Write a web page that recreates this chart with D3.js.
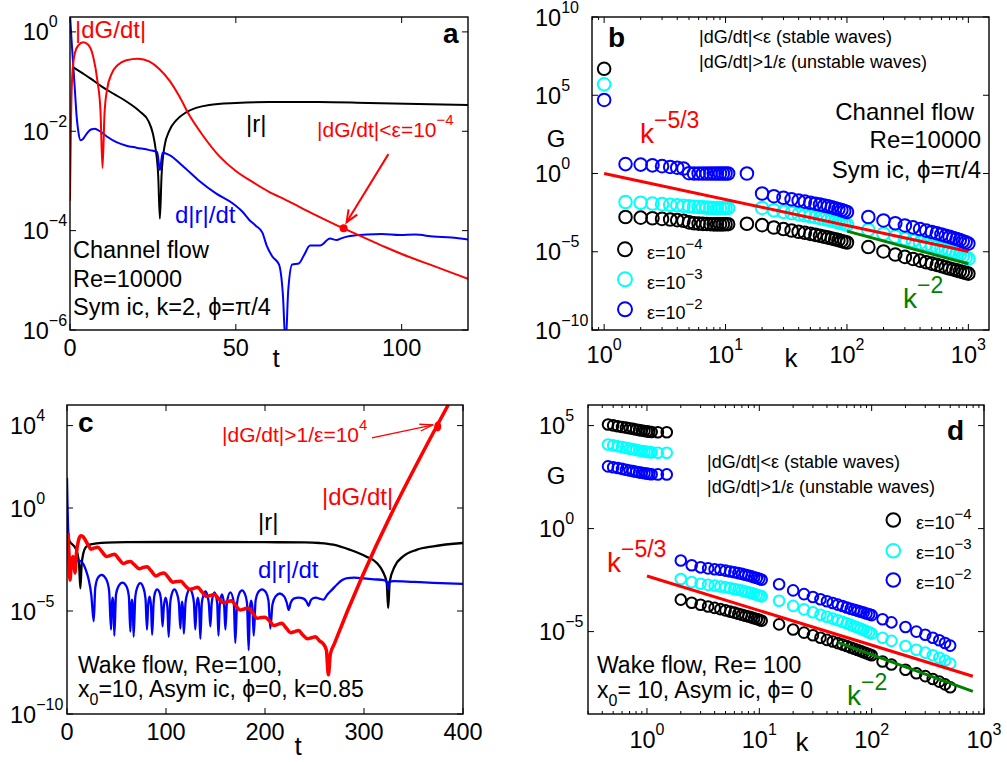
<!DOCTYPE html>
<html>
<head>
<meta charset="utf-8" />
<title>dG/dt and G(k)</title>
<script src="https://cdn.jsdelivr.net/npm/d3@7"></script>
<style>
  body { margin: 0; background: #fff; }
  text { font-family: "Liberation Sans", Arial, Helvetica, sans-serif; }
</style>
</head>
<body>
<script>
// ---------- panel a : channel flow, [t, log10(value)] ----------
const aDG = [[0,-3.4],[0.3,-1.8],[0.7,-0.85],[1.5,-0.42],[2.5,-0.27],[4,-0.21],[5.5,-0.26],[7,-0.5],[8.3,-1.0],[9.2,-1.6],[9.8,-2.74],
  [10.4,-1.65],[11.2,-1.15],[12.5,-0.85],[14.5,-0.66],[17,-0.57],[20.5,-0.54],[24,-0.6],[27,-0.75],[30,-0.98],[33,-1.3],[36,-1.68],
  [40,-2.08],[45,-2.5],[50,-2.8],[55,-3.02],[60,-3.22],[65,-3.38],[70,-3.55],[75,-3.72],[80,-3.88],[85,-4.03],[90,-4.18],[95,-4.33],
  [100,-4.47],[110,-4.72],[120,-4.97]];
const aR = [[1.2,-0.72],[3.5,-0.82],[6,-0.93],[9.6,-1.1],[13,-1.24],[17.7,-1.43],[21,-1.6],[23.7,-1.8],[25,-2.05],[25.8,-2.35],[26.6,-2.9],
  [27.1,-3.76],[27.6,-2.9],[28.5,-2.3],[30,-1.98],[32,-1.78],[35,-1.62],[38,-1.53],[42,-1.47],[50,-1.43],[60,-1.41],[75,-1.41],
  [90,-1.43],[105,-1.45],[120,-1.47]];
const aDR = [[0,0.35],[0.5,-0.2],[1,-0.7],[1.5,-1.2],[2,-1.7],[2.5,-2.0],[3.2,-2.18],[4,-2.15],[5,-2.05],[6.5,-1.96],[7.5,-1.95],[9,-2.0],
  [11,-2.1],[14,-2.22],[17,-2.29],[20,-2.33],[24,-2.38],[26.3,-2.42],[27.1,-2.78],[27.9,-2.43],[30,-2.48],[34,-2.7],[39,-3.0],[44,-3.25],
  [49,-3.45],[52,-3.62],[54,-3.78],[56,-3.9],[58,-4.04],[59.3,-4.3],[61,-4.52],[63,-4.68],[64.2,-5.3],[65,-6.3],[65.8,-5.2],[67,-4.68],
  [69,-4.66],[70.5,-4.5],[72.4,-4.3],[75.4,-4.3],[78.4,-4.16],[80.4,-4.19],[82,-4.15],[84.4,-4.11],[89.4,-4.08],[94,-4.07],[99.5,-4.09],
  [104,-4.08],[109.6,-4.12],[115,-4.14],[120,-4.18]];
const aDot = [82.5, -3.95];
const aArrow = [[96, -2.46], [83.4, -3.83]];
const aXTicks = [0, 50, 100];
const aYExp = [0, -2, -4, -6];

// ---------- panel b : channel flow spectrum, log10(G) ----------
const bK = [1, 1.5,2,2.5,3,3.5,4,4.5,5,5.5,6,6.5,7,7.5,8,8.5,9,9.5,10,10.5, 15,
  20,25,30,35,40,45,50,55,60,65,70,75,80,85,90,95,100,
  150,200,250,300,350,400,450,500,550,600,650,700,750,800,850,900,950,1000];
const bBlack = [6.69, -2.78,-2.82,-2.86,-2.9,-2.94,-2.98,-3.02,-3.12,-3.18,-3.2,-3.22,-3.23,-3.24,-3.25,-3.25,-3.25,-3.25,-3.24,-3.24, -3.21,
  -3.3,-3.45,-3.55,-3.64,-3.72,-3.79,-3.86,-3.92,-3.98,-4.04,-4.1,-4.15,-4.2,-4.26,-4.31,-4.36,-4.41,
  -4.7,-4.98,-5.18,-5.33,-5.46,-5.57,-5.67,-5.76,-5.84,-5.92,-6.0,-6.07,-6.13,-6.19,-6.25,-6.3,-6.35,-6.4];
const bCyan = [5.7, -1.82,-1.87,-1.92,-1.96,-2.0,-2.03,-2.06,-2.09,-2.12,-2.14,-2.16,-2.18,-2.19,-2.2,-2.21,-2.21,-2.2,-2.2,-2.2, null,
  -2.2,-2.35,-2.45,-2.53,-2.6,-2.67,-2.73,-2.79,-2.85,-2.9,-2.96,-3.01,-3.06,-3.12,-3.17,-3.22,-3.27,
  -3.6,-3.85,-4.03,-4.18,-4.3,-4.42,-4.52,-4.62,-4.71,-4.8,-4.88,-4.96,-5.04,-5.12,-5.2,-5.28,-5.36,-5.44];
const bBlue = [4.7, 0.6,0.57,0.52,0.47,0.42,0.37,0.32,0.02,0,0,0,0,0,0,0,0,0,0,0, 0,
  -1.28,-1.45,-1.55,-1.65,-1.73,-1.8,-1.87,-1.93,-1.99,-2.05,-2.1,-2.16,-2.22,-2.28,-2.34,-2.4,-2.46,
  -2.78,-3.0,-3.18,-3.32,-3.44,-3.55,-3.65,-3.74,-3.82,-3.9,-3.98,-4.05,-4.12,-4.19,-4.26,-4.33,-4.4,-4.48];
const bRed = [[1, 0], [1000, -4.98]];       // k^-5/3
const bGreen = [[100, -3.68], [1000, -5.77]]; // k^-2
const bXExp = [0, 1, 2, 3];
const bYExp = [10, 5, 0, -5, -10];

// ---------- panel c : wake flow ----------
const cDG = [[1.2,-1.2],[2,-2.3],[3,-3.5],[4.5,-2.6],[6,-2.35],[7,-2.7],[8,-3.15],[9.5,-2.2],[11.5,-1.6],[14,-1.35],[16,-1.38],[19,-1.6],
  [22,-1.85],[24,-2.0],[27,-1.95],[31,-1.9],[35,-2.1],[40,-2.35],[44,-2.3],[48,-2.25],[52,-2.45],[57,-2.7],[61,-2.62],[64,-2.6],
  [68,-2.75],[73,-2.95],[77,-2.88],[81,-2.85],[85,-3.05],[90,-3.3],[94,-3.2],[98,-3.15],[102,-3.35],[107,-3.6],[111,-3.57],[115,-3.55],
  [119,-3.75],[124,-3.95],[128,-3.9],[132,-3.85],[136,-4.05],[141,-4.3],[145,-4.24],[149,-4.2],[153,-4.4],[158,-4.6],[162,-4.55],
  [166,-4.5],[170,-4.7],[175,-4.95],[179,-4.9],[183,-4.85],[187,-5.05],[192,-5.35],[196,-5.32],[200,-5.3],[204,-5.45],[209,-5.7],
  [213,-5.65],[217,-5.6],[221,-5.8],[226,-6.05],[230,-6.0],[234,-5.95],[238,-6.15],[243,-6.35],[247,-6.3],[251,-6.25],[255,-6.45],
  [259,-6.6],[262,-6.9],[264,-8.1],[266,-7.1],[270,-6.6],[385,5.0]];
const cR = [[0,-1.05],[1,-1.35],[2.5,-1.6],[5,-1.75],[8,-1.9],[10.5,-2.2],[12.3,-2.8],[13.5,-3.9],[14.7,-2.8],[16.5,-2.2],[19,-1.9],
  [23,-1.78],[30,-1.72],[40,-1.68],[60,-1.66],[100,-1.65],[150,-1.65],[200,-1.66],[240,-1.67],[255,-1.7],[269,-1.78],[286,-2.03],
  [302,-2.35],[313,-2.67],[319,-3.08],[323,-3.65],[324.4,-4.86],[326,-3.57],[331,-2.84],[339.5,-2.35],[353,-2.03],[370,-1.86],[400,-1.7]];
const cDR = [[0,1.46],[0.5,0.2],[1,-0.8],[1.8,-1.9],[3.2,-2.8],[5,-2.75],[8,-2.62],[12,-2.55],[15,-2.62],[19,-3.0],[22,-3.5],[24.5,-4.2],[27,-5.5],
  [28.5,-3.9],[31,-3.4],[35,-3.25],[39.5,-3.45],[42.5,-4.0],[44.5,-5.9],
  [45.3,-4.7],[46.1,-4.35],[47,-4.7],[47.8,-6.2],
  [49.5,-4.2],[52,-3.8],[56,-3.62],[60,-3.8],[62.5,-4.3],[64,-6.0],
  [64.8,-4.8],[65.6,-4.45],[66.5,-4.8],[67.3,-6.25],
  [69,-4.3],[71,-3.85],[74,-3.65],[77,-3.85],[79.3,-4.4],[80.8,-5.9],
  [82,-4.7],[83.4,-4.3],[84.8,-4.7],[86,-6.15],
  [87.5,-4.6],[89,-4.1],[91,-3.95],[93.5,-4.1],[95.2,-4.6],[96.5,-5.75],
  [97.8,-4.8],[99.6,-4.35],[101.4,-4.8],[102.7,-6.25],
  [104.3,-4.6],[106,-4.15],[108.5,-3.95],[111,-4.15],[113,-4.6],[114.5,-5.85],
  [115.4,-4.9],[116.2,-4.55],[117.1,-4.9],[118,-6.1],
  [119.7,-4.6],[121.5,-4.15],[124,-3.95],[126.5,-4.15],[128.2,-4.6],[129.6,-5.9],
  [130.8,-4.8],[132.2,-4.35],[133.5,-4.8],[134.7,-6.35],
  [136.2,-4.6],[137.8,-4.25],[139.8,-4.05],[141.8,-4.25],[143.4,-4.7],[144.8,-5.75],
  [146.2,-4.6],[149,-4.1],[151.7,-4.6],[153,-6.2],
  [154.3,-4.7],[156.5,-4.2],[158.7,-4.7],[160,-5.9],
  [161.5,-4.6],[165,-4.1],[168.5,-4.6],[170,-6.55],
  [171.8,-4.6],[174,-4.15],[176.8,-4.0],[179.5,-4.15],[181.8,-4.6],[183.5,-6.9],
  [184.7,-4.9],[186,-4.5],[187.4,-4.9],[188.6,-6.2],
  [190.5,-4.5],[193,-4.1],[197,-3.95],[201,-4.1],[203.5,-4.5],[205.4,-5.85],
  [207.5,-4.7],[210.5,-4.3],[215,-4.15],[219.5,-4.3],[222,-4.6],[224,-4.95],
  [226,-4.6],[229,-4.4],[234,-4.35],[239,-4.4],[242,-4.55],[244,-4.75],
  [246,-4.5],[248.5,-4.38],[251.5,-4.35],[255,-4.4],[259,-4.45],
  [263,-4.2],[268,-3.95],[273,-3.7],[278,-3.5],[283,-3.4],[290,-3.38],[300,-3.42],[310,-3.46],[320,-3.5],[323.5,-3.6],[324.4,-3.95],
  [325.3,-3.6],[330,-3.55],[350,-3.59],[370,-3.63],[400,-3.68]];
const cDot = [374.5, 3.96];
const cArrow = [[308, 3.4], [370, 4.04]];
const cXTicks = [0, 100, 200, 300, 400];
const cYExp = [4, 0, -5, -10];

// ---------- panel d : wake flow spectrum, log10(G) ----------
const dK = [0.45,0.5,0.55,0.6,0.65,0.7,0.75,0.8,0.85,0.9,0.95,1.0,1.05,1.1,1.25,1.5,
  2,2.5,3,3.5,4,4.5,5,5.5,6,6.5,7,7.5,8,8.5,9,9.5,10,10.5,
  15,20,25,30,35,40,45,50,55,60,65,70,75,80,85,90,95,100,
  125,150,200,250,300,350,400,450,500];
const dBlack = [5.05,5.01,4.97,4.93,4.9,4.87,4.84,4.81,4.78,4.76,4.74,4.72,4.7,4.69,4.68,4.68,
  -3.45,-3.6,-3.7,-3.78,-3.85,-3.91,-3.97,-4.03,-4.08,-4.13,-4.18,-4.23,-4.27,-4.31,-4.35,-4.39,-4.43,-4.47,
  -4.65,-4.9,-5.05,-5.18,-5.3,-5.4,-5.48,-5.56,-5.63,-5.7,-5.77,-5.83,-5.89,-5.95,-6.0,-6.05,-6.1,-6.15,
  -6.45,-6.6,-6.85,-7.02,-7.16,-7.3,-7.43,-7.56,-7.7];
const dCyan = [4.08,4.04,4.0,3.96,3.92,3.88,3.85,3.82,3.79,3.77,3.75,3.73,3.71,3.7,3.68,3.68,
  -2.45,-2.6,-2.68,-2.73,-2.77,-2.81,-2.85,-2.89,-2.93,-2.97,-3.01,-3.05,-3.09,-3.13,-3.17,-3.21,-3.25,-3.29,
  -3.5,-3.75,-3.92,-4.06,-4.18,-4.28,-4.37,-4.45,-4.53,-4.6,-4.67,-4.74,-4.8,-4.86,-4.92,-4.98,-5.04,-5.1,
  -5.3,-5.45,-5.7,-5.88,-6.02,-6.15,-6.27,-6.4,-6.55];
const dBlue = [3.02,2.98,2.94,2.9,2.86,2.82,2.79,2.76,2.73,2.71,2.69,2.67,2.65,2.64,2.63,2.63,
  -1.55,-1.78,-1.88,-1.93,-1.97,-2.0,-2.04,-2.08,-2.12,-2.16,-2.2,-2.24,-2.28,-2.32,-2.36,-2.4,-2.44,-2.48,
  -2.7,-3.0,-3.18,-3.32,-3.43,-3.53,-3.61,-3.69,-3.76,-3.83,-3.89,-3.94,-3.99,-4.04,-4.08,-4.12,-4.16,-4.2,
  -4.4,-4.55,-4.78,-5.0,-5.15,-5.3,-5.42,-5.55,-5.68];
const dRed = [[1, -2.3], [795, -7.17]];
const dGreen = [[50, -5.52], [795, -7.9]];
const dXExp = [0, 1, 2, 3];
const dYExp = [5, 0, -5];

const epsExp = [-4, -3, -2];
const RED = "#ff0000", BLUE = "#0000ff", CYAN = "#00ffff", GREEN = "#008000";
const P = v => Math.pow(10, v);
const minus = e => (e < 0 ? "\u2212" + (-e) : String(e));

const svg = d3.select("body").append("svg").attr("width", 1007).attr("height", 762);
svg.append("rect").attr("width", 1007).attr("height", 762).attr("fill", "#fff");

// text with superscript / subscript parts
function txt(g, x, y, segs, o) {
  o = Object.assign({ size: 24, fill: "#000", anchor: "start", weight: "normal", small: 16, raise: 13, lower: 8 }, o);
  const t = g.append("text").attr("x", x).attr("y", y).attr("font-size", o.size)
    .attr("fill", o.fill).attr("text-anchor", o.anchor).attr("font-weight", o.weight);
  let shift = 0;
  (Array.isArray(segs) ? segs : [segs]).forEach(s => {
    let str = s, kind = null;
    if (Array.isArray(s)) { str = s[0]; kind = s[1]; }
    const target = kind === "sup" ? -o.raise : kind === "sub" ? o.lower : 0;
    const sp = t.append("tspan").attr("dy", target - shift).text(str);
    if (kind) sp.attr("font-size", o.small);
    shift = target;
  });
  return t;
}

function makePanel(id, x, y) {
  const [l, r] = x.range(), [b, t] = y.range();
  const g = svg.append("g");
  g.append("clipPath").attr("id", "clip-" + id).append("rect")
    .attr("x", l).attr("y", t).attr("width", r - l).attr("height", b - t);
  const plot = g.append("g").attr("clip-path", `url(#clip-${id})`);
  return { g, plot, x, y, l, r, t, b };
}

function tickMarks(p, xs, ys, len) {
  const g = p.g.append("g").attr("stroke", "#000").attr("stroke-width", 1);
  xs.forEach(v => {
    const X = p.x(v);
    g.append("line").attr("x1", X).attr("x2", X).attr("y1", p.b).attr("y2", p.b - len);
    g.append("line").attr("x1", X).attr("x2", X).attr("y1", p.t).attr("y2", p.t + len);
  });
  ys.forEach(v => {
    const Y = p.y(v);
    g.append("line").attr("x1", p.l).attr("x2", p.l + len).attr("y1", Y).attr("y2", Y);
    g.append("line").attr("x1", p.r).attr("x2", p.r - len).attr("y1", Y).attr("y2", Y);
  });
}

function minorX(p, lo, hi) {
  const vals = [];
  for (let e = lo; e <= hi; e++) for (let m = 2; m <= 9; m++) {
    const v = m * P(e);
    if (v > p.x.domain()[0] && v < p.x.domain()[1]) vals.push(v);
  }
  tickMarks(p, vals, [], 3);
}

function frame(p) {
  p.g.append("rect").attr("x", p.l).attr("y", p.t).attr("width", p.r - p.l).attr("height", p.b - p.t)
    .attr("fill", "none").attr("stroke", "#000").attr("stroke-width", 1.4);
}

function curve(p, data, color, w) {
  const line = d3.line().x(d => p.x(d[0])).y(d => p.y(P(d[1]))).curve(d3.curveMonotoneX);
  p.plot.append("path").attr("d", line(data)).attr("fill", "none")
    .attr("stroke", color).attr("stroke-width", w).attr("stroke-linejoin", "round");
}

function straight(p, data, color, w) {
  const line = d3.line().x(d => p.x(d[0])).y(d => p.y(P(d[1])));
  p.plot.append("path").attr("d", line(data)).attr("fill", "none").attr("stroke", color).attr("stroke-width", w);
}

function rings(p, ks, vs, color, r) {
  const pts = ks.map((k, i) => [k, vs[i]]).filter(d => d[1] !== null);
  p.plot.append("g").selectAll("circle").data(pts).join("circle")
    .attr("cx", d => p.x(d[0])).attr("cy", d => p.y(P(d[1]))).attr("r", r)
    .attr("fill", "none").attr("stroke", color).attr("stroke-width", 2);
}

function arrow(p, pts, color, w, head, spread) {
  const [x0, y0] = [p.x(pts[0][0]), p.y(P(pts[0][1]))];
  const [x1, y1] = [p.x(pts[1][0]), p.y(P(pts[1][1]))];
  const a = Math.atan2(y1 - y0, x1 - x0);
  const g = p.g.append("g").attr("stroke", color).attr("stroke-width", w).attr("fill", "none");
  g.append("line").attr("x1", x0).attr("y1", y0).attr("x2", x1).attr("y2", y1);
  g.append("path").attr("stroke-linejoin", "miter")
    .attr("d", `M${x1 - head * Math.cos(a - spread)},${y1 - head * Math.sin(a - spread)}L${x1},${y1}L${x1 - head * Math.cos(a + spread)},${y1 - head * Math.sin(a + spread)}`);
}

// ================= panel a =================
const pa = makePanel("a", d3.scaleLinear().domain([0, 120]).range([70, 468]),
  d3.scaleLog().domain([1e-6, P(0.3)]).range([330, 17]));
curve(pa, aR, "#000", 2);
curve(pa, aDR, BLUE, 2);
curve(pa, aDG, RED, 2);
pa.g.append("circle").attr("cx", pa.x(aDot[0])).attr("cy", pa.y(P(aDot[1]))).attr("r", 4).attr("fill", RED);
arrow(pa, aArrow, RED, 2, 13, 0.4);
tickMarks(pa, aXTicks, aYExp.map(P), 6);
frame(pa);
aYExp.forEach(e => txt(pa.g, 22.7, pa.y(P(e)) + 8.5, ["10", [minus(e), "sup"]], { size: 23.5 }));
aXTicks.forEach(v => txt(pa.g, pa.x(v), 356, String(v), { size: 23.5, anchor: "middle" }));
txt(pa.g, 276, 367, "t", { size: 26, anchor: "middle" });
txt(pa.g, 443, 43, "a", { size: 28, weight: "bold" });
txt(pa.g, 75, 38, "|dG/dt|", { fill: RED });
txt(pa.g, 246, 132, "|r|");
txt(pa.g, 317, 137, ["|dG/dt|<\u03b5=10", ["\u22124", "sup"]], { size: 21, fill: RED, small: 15, raise: 12 });
txt(pa.g, 175, 223, "d|r|/dt", { fill: BLUE });
txt(pa.g, 73, 258, "Channel flow", { size: 23.5 });
txt(pa.g, 73, 287, "Re=10000", { size: 23.5 });
txt(pa.g, 73, 315, "Sym ic, k=2, \u03d5=\u03c0/4", { size: 23.5 });

// ================= panel b =================
const pb = makePanel("b", d3.scaleLog().domain([P(-0.1), P(3.17)]).range([592, 989]),
  d3.scaleLog().domain([1e-10, 1e10]).range([330, 17]));
rings(pb, bK, bBlack, "#000", 6.3);
rings(pb, bK, bCyan, CYAN, 6.3);
rings(pb, bK, bBlue, BLUE, 6.3);
straight(pb, bRed, RED, 3);
straight(pb, bGreen, GREEN, 3);
minorX(pb, -1, 3);
tickMarks(pb, bXExp.map(P), bYExp.map(P), 6);
frame(pb);
bYExp.forEach(e => txt(pb.g, 535, pb.y(P(e)) + 8.5, ["10", [minus(e), "sup"]], { size: 23.5 }));
bXExp.forEach(e => txt(pb.g, pb.x(P(e)), 363, ["10", [minus(e), "sup"]], { size: 23.5, anchor: "middle" }));
txt(pb.g, 791, 367, "k", { size: 26, anchor: "middle" });
txt(pb.g, 556, 147, "G", { size: 24, anchor: "middle" });
txt(pb.g, 608, 47, "b", { size: 28, weight: "bold" });
txt(pb.g, 699, 43, "|dG/dt|<\u03b5 (stable waves)", { size: 18 });
txt(pb.g, 699, 68, "|dG/dt|>1/\u03b5 (unstable waves)", { size: 18 });
txt(pb.g, 974, 120, "Channel flow", { anchor: "end" });
txt(pb.g, 981, 148, "Re=10000", { anchor: "end" });
txt(pb.g, 981, 178, "Sym ic, \u03d5=\u03c0/4", { anchor: "end" });
txt(pb.g, 640, 143, ["k", ["\u22125/3", "sup"]], { size: 28, fill: RED, small: 23, raise: 15 });
txt(pb.g, 903, 308, ["k", ["\u22122", "sup"]], { size: 28, fill: GREEN, small: 23, raise: 15 });
[["#000", 249.3], [CYAN, 279.3], [BLUE, 309.3]].forEach((c, i) => {
  pb.g.append("circle").attr("cx", 625).attr("cy", c[1]).attr("r", 7).attr("fill", "none")
    .attr("stroke", c[0]).attr("stroke-width", 2);
  txt(pb.g, 647, c[1] + 9.5, ["\u03b5=10", [minus(epsExp[i]), "sup"]], { size: 18, small: 15, raise: 10 });
});

// ================= panel c =================
const pc = makePanel("c", d3.scaleLinear().domain([0, 400]).range([67, 463]),
  d3.scaleLog().domain([1e-10, 1e5]).range([714, 405]));
curve(pc, cR, "#000", 2.3);
curve(pc, cDR, BLUE, 2.3);
curve(pc, cDG, RED, 3.5);
pc.g.append("ellipse").attr("cx", pc.x(cDot[0])).attr("cy", pc.y(P(cDot[1]))).attr("rx", 3.5).attr("ry", 5).attr("fill", RED);
arrow(pc, cArrow, RED, 1.3, 14, 0.25);
tickMarks(pc, cXTicks, cYExp.map(P), 6);
frame(pc);
cYExp.forEach(e => txt(pc.g, 10, pc.y(P(e)) + 8.5, ["10", [minus(e), "sup"]], { size: 23.5 }));
cXTicks.forEach(v => txt(pc.g, pc.x(v), 740, String(v), { size: 23.5, anchor: "middle" }));
txt(pc.g, 298, 755, "t", { size: 26, anchor: "middle" });
txt(pc.g, 78, 432, "c", { size: 28, weight: "bold" });
txt(pc.g, 222, 442, ["|dG/dt|>1/\u03b5=10", ["4", "sup"]], { size: 21, fill: RED, small: 15, raise: 12 });
txt(pc.g, 322, 505, "|dG/dt|", { fill: RED });
txt(pc.g, 258, 530, "|r|");
txt(pc.g, 258, 578, "d|r|/dt", { fill: BLUE });
txt(pc.g, 78, 673, "Wake flow, Re=100,", { size: 23 });
txt(pc.g, 78, 697, ["x", ["0", "sub"], "=10, Asym ic, \u03d5=0, k=0.85"], { size: 23 });

// ================= panel d =================
const pd = makePanel("d", d3.scaleLog().domain([P(-0.525), 1e3]).range([588, 984]),
  d3.scaleLog().domain([1e-9, 1e6]).range([714, 405]));
rings(pd, dK, dBlack, "#000", 5.3);
rings(pd, dK, dCyan, CYAN, 5.3);
rings(pd, dK, dBlue, BLUE, 5.3);
straight(pd, dRed, RED, 3);
straight(pd, dGreen, GREEN, 3);
minorX(pd, -1, 3);
tickMarks(pd, dXExp.map(P), dYExp.map(P), 6);
frame(pd);
dYExp.forEach(e => txt(pd.g, 539, pd.y(P(e)) + 8.5, ["10", [minus(e), "sup"]], { size: 23.5 }));
dXExp.forEach(e => txt(pd.g, pd.x(P(e)), 748, ["10", [minus(e), "sup"]], { size: 23.5, anchor: "middle" }));
txt(pd.g, 802, 751, "k", { size: 26, anchor: "middle" });
txt(pd.g, 556, 484, "G", { size: 24, anchor: "middle" });
txt(pd.g, 947, 440, "d", { size: 28, weight: "bold" });
txt(pd.g, 707, 468, "|dG/dt|<\u03b5 (stable waves)", { size: 18 });
txt(pd.g, 707, 493, "|dG/dt|>1/\u03b5 (unstable waves)", { size: 18 });
txt(pd.g, 607, 572, ["k", ["\u22125/3", "sup"]], { size: 28, fill: RED, small: 23, raise: 15 });
txt(pd.g, 847, 705, ["k", ["\u22122", "sup"]], { size: 28, fill: GREEN, small: 23, raise: 15 });
txt(pd.g, 597, 673, "Wake flow, Re= 100", { size: 23 });
txt(pd.g, 597, 698, ["x", ["0", "sub"], "= 10, Asym ic, \u03d5= 0"], { size: 23 });
[["#000", 520], [CYAN, 550.7], [BLUE, 580]].forEach((c, i) => {
  pd.g.append("circle").attr("cx", 893.3).attr("cy", c[1]).attr("r", 6.8).attr("fill", "none")
    .attr("stroke", c[0]).attr("stroke-width", 2);
  txt(pd.g, 916, c[1] + 8.5, ["\u03b5=10", [minus(epsExp[i]), "sup"]], { size: 18, small: 15, raise: 10 });
});
</script>
</body>
</html>
